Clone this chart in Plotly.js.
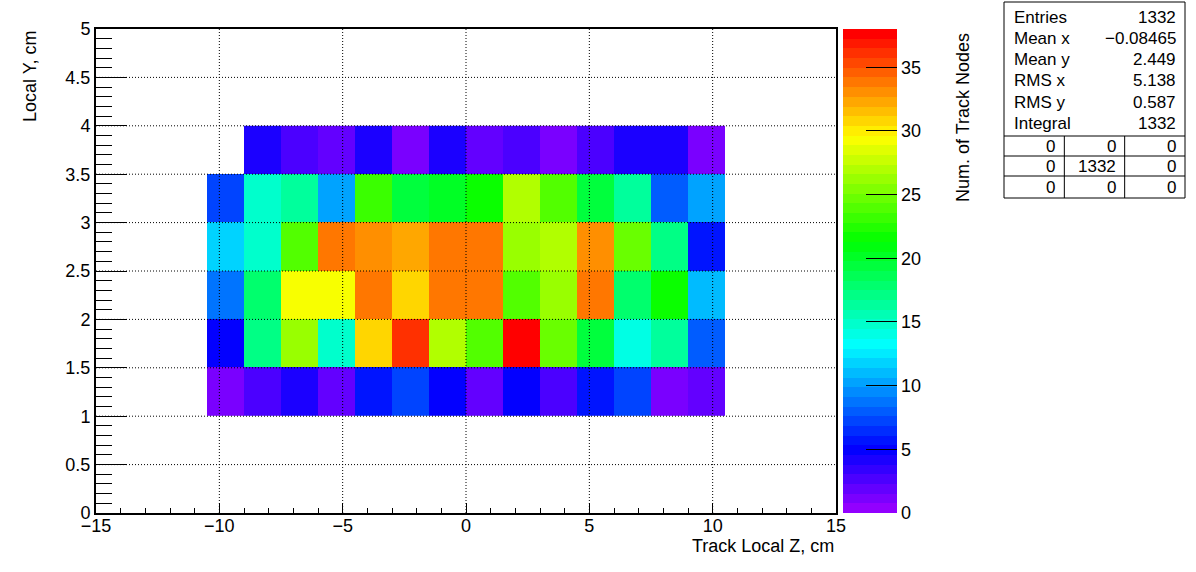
<!DOCTYPE html>
<html><head><meta charset="utf-8">
<script src="https://cdn.plot.ly/plotly-3.0.1.min.js"></script>
<style>html,body{margin:0;padding:0;background:#fff}</style>
</head><body><div id="chart" style="width:1196px;height:572px"></div>
<script>
// ---- data ----
const xEdges = [-10.5, -9, -7.5, -6, -4.5, -3, -1.5, 0, 1.5, 3, 4.5, 6, 7.5, 9, 10.5];
const yEdges = [1, 1.5, 2, 2.5, 3, 3.5, 4];
const rowY1to1p5   = [1, 3, 4, 2, 6, 7, 5, 2, 5, 3, 6, 7, 1, 2];
const rowY1p5to2   = [5, 17, 26, 15, 31, 36, 27, 24, 38, 25, 19, 14, 16, 8];
const rowY2to2p5   = [9, 18, 29, 29, 34, 31, 34, 34, 24, 26, 34, 18, 22, 11];
const rowY2p5to3   = [12, 15, 24, 34, 33, 32, 34, 34, 26, 27, 33, 25, 17, 6];
const rowY3to3p5   = [7, 15, 16, 10, 23, 19, 20, 22, 27, 24, 19, 16, 8, 10];
const rowY3p5to4   = [null, 4, 3, 2, 4, 1, 4, 2, 3, 1, 3, 4, 4, 1];
const zMin = 0, zMax = 38;
const xTicks = [-15, -10, -5, 0, 5, 10, 15];
const yTicks = [0, 0.5, 1, 1.5, 2, 2.5, 3, 3.5, 4, 4.5, 5];
const xTitle = "Track Local Z, cm";
const yTitle = "Local Y, cm";
const zTitle = "Num. of Track Nodes";
const statLabels = ["Entries", "Mean x", "Mean y", "RMS x", "RMS y", "Integral"];
const statValues = ["1332", "\u22120.08465", "2.449", "5.138", "0.587", "1332"];
const statTableRow1 = ["0", "0", "0"];
const statTableRow2 = ["0", "1332", "0"];
const statTableRow3 = ["0", "0", "0"];

// ---- style helpers ----
const FONT = '"Liberation Sans", Arial, Helvetica, sans-serif';
const L = 96, R = 836, T = 29, B = 513;
function px(x){ return (x - L) / (R - L); }
function py(y){ return (B - y) / (B - T); }

function hlsColor(h){
  const f = n => { const k = (n + h / 30) % 12; return 0.5 - 0.5 * Math.max(-1, Math.min(k - 3, 9 - k, 1)); };
  return 'rgb(' + Math.round(255 * f(0)) + ',' + Math.round(255 * f(8)) + ',' + Math.round(255 * f(4)) + ')';
}
const nCol = 50;
const pal = [];
for (let i = 0; i < nCol; i++) pal.push(hlsColor(280 - (i + 1) * 280 / nCol));
const cs = [[0, pal[0]]];
for (let i = 1; i < nCol; i++) {
  const b = (i - 0.01) / nCol;
  cs.push([b, pal[i - 1]]);
  cs.push([b, pal[i]]);
}
cs.push([1, pal[nCol - 1]]);

const zRows = [rowY1to1p5, rowY1p5to2, rowY2to2p5, rowY2p5to3, rowY3to3p5, rowY3p5to4];

const trace = {
  type: 'heatmap', x: xEdges, y: yEdges, z: zRows,
  zmin: zMin, zmax: zMax, zauto: false, colorscale: cs, zsmooth: false,
  hoverinfo: 'skip', xgap: 0, ygap: 0,
  colorbar: {
    x: px(843), xanchor: 'left', xpad: 0, xref: 'paper',
    y: 0, yanchor: 'bottom', ypad: 0, len: 1, lenmode: 'fraction',
    thickness: 54, thicknessmode: 'pixels', outlinewidth: 0,
    ticks: 'inside', ticklen: 31, tickwidth: 1, tickcolor: '#000',
    tickmode: 'linear', tick0: 0, dtick: 5,
    tickfont: {family: FONT, size: 18, color: '#000'}
  }
};

const shapes = [];
const dotLine = {color: '#000', width: 1, dash: '1px,2px'};
xTicks.slice(1, -1).forEach(v => shapes.push({type: 'line', xref: 'x', yref: 'y', x0: v, x1: v, y0: yTicks[0], y1: yTicks[yTicks.length - 1], layer: 'above', line: dotLine}));
yTicks.slice(1, -1).forEach(v => shapes.push({type: 'line', xref: 'x', yref: 'y', y0: v, y1: v, x0: xTicks[0], x1: xTicks[xTicks.length - 1], layer: 'above', line: dotLine}));

// stats box
const boxL = 1004, boxR = 1185, boxT = 2, boxB = 198;
const solid = {color: '#000', width: 1};
shapes.push({type: 'rect', xref: 'paper', yref: 'paper', x0: px(boxL), x1: px(boxR), y0: py(boxB), y1: py(boxT), line: solid, fillcolor: '#fff', layer: 'above'});
const tableLines = [136, 156, 176];
tableLines.forEach(yv => shapes.push({type: 'line', xref: 'paper', yref: 'paper', x0: px(boxL), x1: px(boxR), y0: py(yv), y1: py(yv), line: solid, layer: 'above'}));
const cellW = (boxR - boxL) / 3;
[1, 2].forEach(k => shapes.push({type: 'line', xref: 'paper', yref: 'paper', x0: px(boxL + k * cellW), x1: px(boxL + k * cellW), y0: py(136), y1: py(boxB), line: solid, layer: 'above'}));

const annotations = [];
const sfont = {family: FONT, size: 17, color: '#000'};
const rowCenters = [17, 38, 59, 81, 102, 123];
statLabels.forEach((s, i) => annotations.push({xref: 'paper', yref: 'paper', x: px(1012), y: py(rowCenters[i]), text: s, showarrow: false, xanchor: 'left', yanchor: 'middle', font: sfont}));
statValues.forEach((s, i) => annotations.push({xref: 'paper', yref: 'paper', x: px(1178), y: py(rowCenters[i]), text: s, showarrow: false, xanchor: 'right', yanchor: 'middle', font: sfont}));
const tableCenters = [146, 166, 187];
[statTableRow1, statTableRow2, statTableRow3].forEach((row, r) => row.forEach((s, c) => annotations.push({
  xref: 'paper', yref: 'paper', x: px(boxL + (c + 1) * cellW - 7), y: py(tableCenters[r]), text: s, showarrow: false, xanchor: 'right', yanchor: 'middle', font: sfont})));

const tfont = {family: FONT, size: 18, color: '#000'};
annotations.push({xref: 'paper', yref: 'paper', x: 1, y: py(546), text: xTitle, showarrow: false, xanchor: 'right', yanchor: 'middle', font: tfont});
annotations.push({xref: 'paper', yref: 'paper', x: px(30), y: py(77), text: yTitle, textangle: -90, showarrow: false, xanchor: 'center', yanchor: 'middle', font: tfont});
annotations.push({xref: 'paper', yref: 'paper', x: px(963), y: py(117), text: zTitle, textangle: -90, showarrow: false, xanchor: 'center', yanchor: 'middle', font: tfont});

const axisCommon = {
  showline: true, linecolor: '#000', linewidth: 2, mirror: true,
  showgrid: false, zeroline: false, ticks: 'inside', tickcolor: '#000', tickwidth: 1,
  tickfont: {family: FONT, size: 18, color: '#000'}, tickmode: 'linear', layer: 'above traces'
};
const layout = {
  width: 1196, height: 572,
  margin: {l: L, r: 1196 - R, t: T, b: 572 - B, pad: 0},
  paper_bgcolor: '#fff', plot_bgcolor: '#fff',
  font: {family: FONT, color: '#000'},
  xaxis: Object.assign({}, axisCommon, {range: [xTicks[0], xTicks[xTicks.length - 1]], tick0: 0, dtick: 5, ticklen: 10,
    ticklabelstandoff: -5,
    minor: {dtick: 1, tick0: 0, ticks: 'inside', ticklen: 5, tickcolor: '#000', tickwidth: 1, showgrid: false}}),
  yaxis: Object.assign({}, axisCommon, {range: [yTicks[0], yTicks[yTicks.length - 1]], tick0: 0, dtick: 0.5, ticklen: 31,
    minor: {dtick: 0.1, tick0: 0, ticks: 'inside', ticklen: 15.5, tickcolor: '#000', tickwidth: 1, showgrid: false}}),
  shapes: shapes, annotations: annotations, showlegend: false
};
Plotly.newPlot('chart', [trace], layout, {displayModeBar: false, staticPlot: true});
</script>
</body></html>
